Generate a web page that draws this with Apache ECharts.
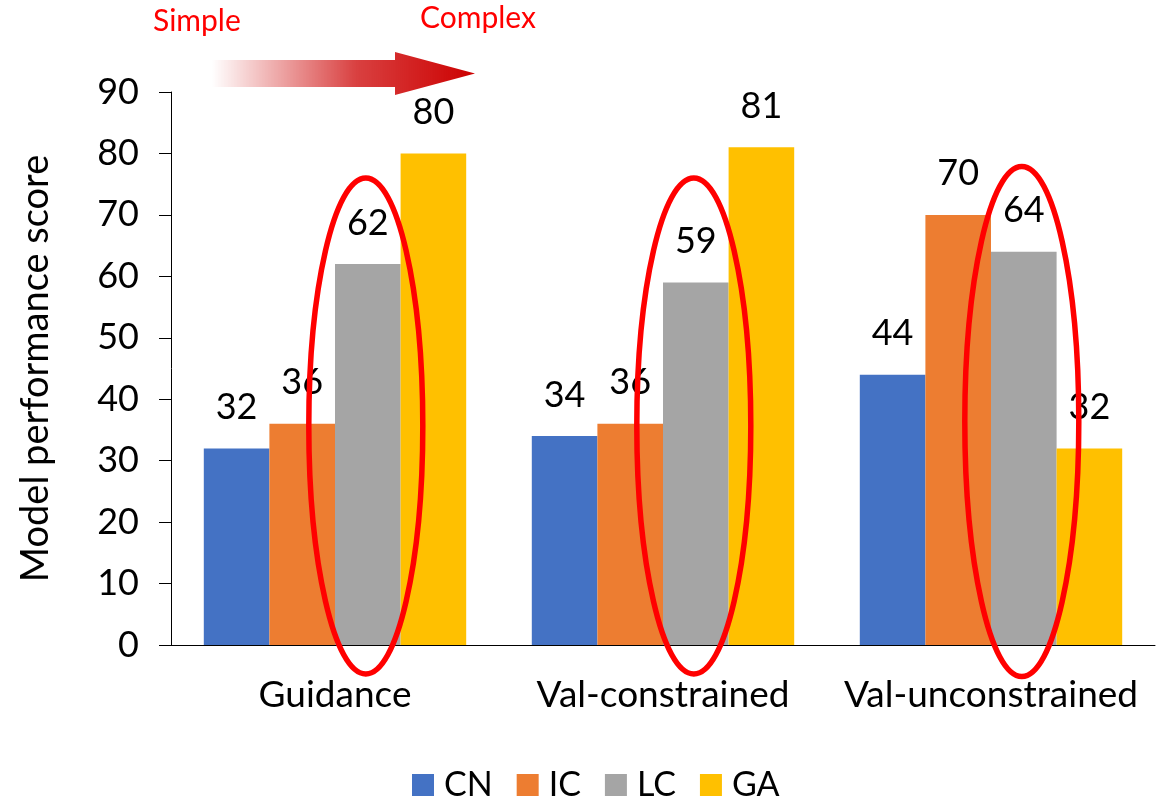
<!DOCTYPE html>
<html>
<head>
<meta charset="utf-8">
<script src="https://cdn.jsdelivr.net/npm/echarts@6/dist/echarts.min.js"></script>
<style>html,body{margin:0;padding:0;background:#fff}#c{width:1161px;height:802px}</style>
</head>
<body>
<div id="c"></div>
<script>
const categories = ['Guidance', 'Val-constrained', 'Val-unconstrained'];
const seriesNames = ['CN', 'IC', 'LC', 'GA'];
const CN = [32, 34, 44];
const IC = [36, 36, 70];
const LC = [62, 59, 64];
const GA = [80, 81, 32];
const yTicks = [0, 10, 20, 30, 40, 50, 60, 70, 80, 90];
const colors = ['#4472C4', '#ED7D31', '#A5A5A5', '#FFC000'];
const FONT = 'Lato, "Open Sans", sans-serif';

const chart = echarts.init(document.getElementById('c'), null, {renderer: 'canvas'});
const values = [CN, IC, LC, GA];
const option = {
  animation: false,
  color: colors,
  textStyle: {fontFamily: FONT},
  grid: {left: 171, right: 6, top: 92, bottom: 157, containLabel: false},
  legend: {
    data: seriesNames,
    top: 763,
    left: 407,
    itemWidth: 22, itemHeight: 22, itemGap: 24,
    icon: 'rect',
    textStyle: {fontSize: 34, color: '#000', fontFamily: FONT, padding: [0, 0, 0, 5]}
  },
  xAxis: {
    type: 'category',
    data: categories,
    axisLine: {lineStyle: {color: '#000', width: 1}},
    axisTick: {show: false},
    axisLabel: {fontSize: 37, color: '#000', margin: 32, fontFamily: FONT, interval: 0, hideOverlap: false}
  },
  yAxis: {
    type: 'value',
    min: 0, max: 90, interval: 10,
    name: 'Model performance score',
    nameLocation: 'middle',
    nameGap: 116,
    nameTextStyle: {fontSize: 38, color: '#000', fontFamily: FONT},
    axisLine: {show: true, lineStyle: {color: '#000', width: 1}},
    axisTick: {show: true, length: 12, lineStyle: {color: '#000'}},
    splitLine: {show: false},
    axisLabel: {fontSize: 36, color: '#000', margin: 32, fontFamily: FONT,
      formatter: v => yTicks.includes(v) ? String(v) : ''}
  },
  series: seriesNames.map((n, i) => ({
    name: n,
    type: 'bar',
    data: values[i],
    barGap: '0%',
    barCategoryGap: '20%',
    itemStyle: {color: colors[i]},
    label: {show: true, position: 'top', distance: 23, fontSize: 36, color: '#000', fontFamily: FONT},
    z: 2
  }))
};
chart.setOption(option);

// Annotations: ellipses around LC bars, arrow and text
const ellipseV = [[426, 248], [426, 248], [421.5, 255]];
const lcData = chart.getModel().getSeriesByIndex(2).getData();
const graphics = [];
for (let i = 0; i < categories.length; i++) {
  const lay = lcData.getItemLayout(i);
  const cx = lay.x + lay.width / 2;
  graphics.push({
    type: 'ellipse',
    shape: {cx: cx - 2, cy: ellipseV[i][0], rx: 57, ry: ellipseV[i][1]},
    style: {fill: null, stroke: '#FF0000', lineWidth: 5.5},
    z: 100
  });
}
graphics.push({
  type: 'polygon',
  shape: {points: [[212, 60], [395, 60], [395, 52], [475, 73.5], [395, 95], [395, 87], [212, 87]]},
  style: {
    fill: new echarts.graphic.LinearGradient(0, 0, 1, 0, [
      {offset: 0, color: 'rgba(204,0,0,0)'},
      {offset: 0.55, color: 'rgba(204,0,0,0.75)'},
      {offset: 1, color: 'rgba(204,0,0,1)'}
    ])
  },
  z: 100
});
graphics.push({type: 'text', left: 153, top: 6, style: {text: 'Simple', fill: '#FF0000', fontSize: 30, fontFamily: FONT}, z: 100});
graphics.push({type: 'text', left: 420, top: 3, style: {text: 'Complex', fill: '#FF0000', fontSize: 30, fontFamily: FONT}, z: 100});
chart.setOption({graphic: graphics});
</script>
</body>
</html>
